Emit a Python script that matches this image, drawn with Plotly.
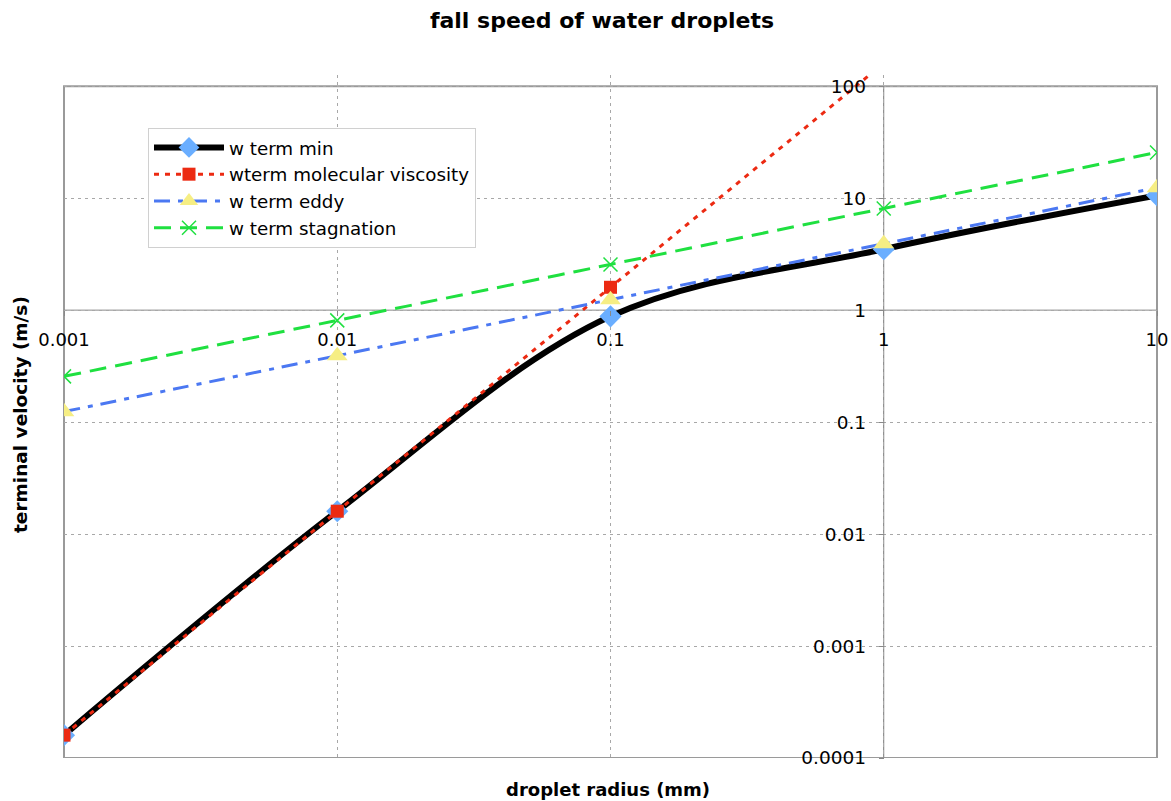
import plotly.graph_objects as go

radius_mm = [0.001, 0.01, 0.1, 1, 10]
w_term_min = [1.6e-4, 0.016, 0.88, 3.5, 10.6]
w_term_molecular = [1.6e-4, 0.016, 1.6, 160, 16000]
w_term_eddy = [0.124, 0.392, 1.24, 3.92, 12.4]
w_term_stagnation = [0.256, 0.81, 2.56, 8.1, 25.6]

x_ticks = [0.001, 0.01, 0.1, 1, 10]
x_ticklabels = ["0.001", "0.01", "0.1", "1", "10"]
y_ticks = [0.0001, 0.001, 0.01, 0.1, 1, 10, 100]
y_ticklabels = ["0.0001", "0.001", "0.01", "0.1", "1", "10", "100"]

FONT = "DejaVu Sans, Verdana, sans-serif"
YR = [-4, 2.1]
W, H = 1171, 801
L, T, R = 64, 75, 14
PW, PH = 1093, 683
B = H - T - PH


def px_x(xp):
    return (xp - L) / PW


def px_y(yp):
    return (T + PH - yp) / PH


fig = go.Figure()
fig.add_trace(go.Scatter(
    x=radius_mm, y=w_term_min, name="w term min", mode="lines+markers",
    line=dict(color="black", width=6, shape="spline"),
    marker=dict(symbol="diamond", size=17, color="#6aaeff")))
fig.add_trace(go.Scatter(
    x=radius_mm, y=w_term_molecular, name="wterm molecular viscosity", mode="lines+markers",
    line=dict(color="#ec2a12", width=3, dash="5px,6px", shape="spline"),
    marker=dict(symbol="square", size=13, color="#ec2a12")))
fig.add_trace(go.Scatter(
    x=radius_mm, y=w_term_eddy, name="w term eddy", mode="lines+markers",
    line=dict(color="#4b78f2", width=3, dash="16px,8px,5px,8px", shape="spline"),
    marker=dict(symbol="triangle-up", size=18, color="#f6ee84")))
fig.add_trace(go.Scatter(
    x=radius_mm, y=w_term_stagnation, name="w term stagnation", mode="lines+markers",
    line=dict(color="#1fe040", width=3, dash="17px,9px", shape="spline"),
    marker=dict(symbol="x-thin-open", size=14, color="#1fe040", line=dict(width=1.5, color="#1fe040"))))

grid = dict(showgrid=True, gridcolor="#a8a8a8", gridwidth=1, griddash="3px,4px")

fig.update_layout(
    width=W, height=H,
    margin=dict(l=L, r=R, t=T, b=B, autoexpand=False),
    paper_bgcolor="white", plot_bgcolor="white",
    font=dict(family=FONT, size=18, color="black"),
    title=dict(text="<b>fall speed of water droplets</b>", x=px_x(602), xref="paper", xanchor="center",
               y=1 - 20 / H, yanchor="middle", font=dict(size=22, family=FONT)),
    xaxis=dict(type="log", range=[-3, 1], tickvals=x_ticks, ticktext=x_ticklabels,
               anchor="free", position=(0 - YR[0]) / (YR[1] - YR[0]),
               showline=False, ticks="outside", ticklen=5, tickcolor="#888",
               ticklabelstandoff=8, ticklabeloverflow="allow", tickfont=dict(size=18), **grid),
    yaxis=dict(type="log", range=YR, tickvals=y_ticks, ticktext=y_ticklabels,
               anchor="free", position=0.75,
               showline=False, ticks="outside", ticklen=5, tickcolor="#888",
               ticklabelstandoff=9, tickfont=dict(size=18.5), **grid),
    legend=dict(x=px_x(148), y=px_y(128), xanchor="left", yanchor="top",
                bgcolor="white", bordercolor="#d0d0d0", borderwidth=1,
                font=dict(size=18.3, family=FONT), itemwidth=70),
    showlegend=True,
    shapes=[
        dict(type="rect", xref="paper", x0=0, x1=1, yref="y", y0=1e-4, y1=100,
             line=dict(color="#9a9a9a", width=2), layer="between"),
        dict(type="line", xref="x", x0=1, x1=1, yref="y", y0=1e-4, y1=100,
             line=dict(color="#8a8a8a", width=1), layer="between"),
        dict(type="line", xref="paper", x0=0, x1=1, yref="y", y0=1, y1=1,
             line=dict(color="#8a8a8a", width=1), layer="between"),
    ],
    annotations=[
        dict(text="<b>droplet radius (mm)</b>", xref="paper", x=px_x(608),
             yref="paper", y=px_y(789), yanchor="middle", showarrow=False,
             font=dict(size=18, family=FONT)),
        dict(text="<b>terminal velocity (m/s)</b>", xref="paper", x=px_x(20),
             yref="paper", y=px_y(415), xanchor="center", yanchor="middle",
             textangle=-90, showarrow=False, font=dict(size=18.5, family=FONT)),
    ],
)

fig.write_html("out.html", config={"displayModeBar": False},
               post_script="document.body.style.margin='0px';document.body.style.overflow='hidden';")
